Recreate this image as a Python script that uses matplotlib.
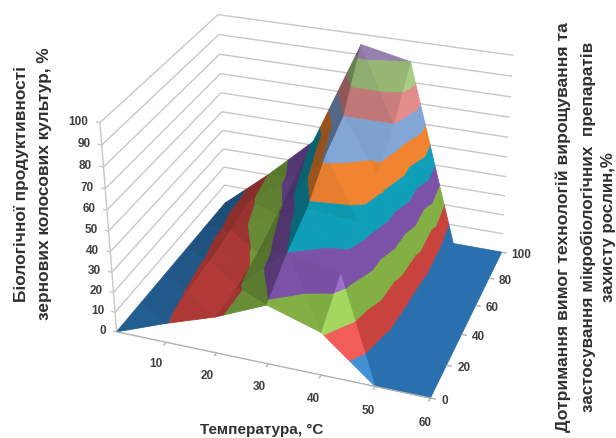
import numpy as np
import matplotlib
matplotlib.use("Agg")
import matplotlib.pyplot as plt
from mpl_toolkits.mplot3d import proj3d
from mpl_toolkits.mplot3d.art3d import Poly3DCollection, Line3DCollection

plt.rcParams['font.family'] = ['Liberation Sans', 'DejaVu Sans']

# values
temperature = [0, 10, 20, 30, 40, 50, 60]
compliance = [0, 20, 40, 60, 80, 100]

# one row per compliance value, one column per temperature
row_0 = [0, 9.5, 18, 29, 21, 0, 0]
row_20 = [0, 11, 18, 40, 35, 6, 0]
row_40 = [0, 12.5, 21.5, 48, 46, 8, 0]
row_60 = [0, 15, 28, 62, 57, 10, 0]
row_80 = [0, 18, 35, 70, 70, 8, 0]
row_100 = [0, 20, 42, 95, 90, 0, 0]
productivity = np.array([row_0, row_20, row_40, row_60, row_80, row_100], dtype=float)

z_ticks = list(range(0, 101, 10))
t_ticks = [10, 20, 30, 40, 50, 60]
m_ticks = [0, 20, 40, 60, 80, 100]

band_colors = ['#2a70ae', '#c8423e', '#82b044', '#7c52a8', '#0f9fb8',
               '#f08430', '#82a6d6', '#e28c8c', '#a8cc82', '#a88fc4']

# Excel's camera: (temperature, compliance, z) -> pixel
cam_3d = np.array([(0, 0, 0), (10, 0, 0), (20, 0, 0), (30, 0, 0), (50, 0, 0), (60, 0, 0),
                   (60, 20, 0), (60, 40, 0), (60, 60, 0), (60, 80, 0), (60, 100, 0),
                   (0, 0, 50), (0, 0, 100), (0, 100, 0), (0, 100, 50), (0, 100, 100),
                   (60, 100, 50), (60, 100, 100)], dtype=float)
cam_px = np.array([(117, 331), (167, 344), (216, 355), (267, 366), (374, 387), (429, 398),
                   (447, 366), (463, 336), (478, 306), (490, 279), (500, 253),
                   (109, 233), (100, 123), (225, 204), (222, 113), (218, 15),
                   (506, 158), (514, 57)], dtype=float)


def fit_camera(pts, px):
    rows, rhs = [], []
    for (x, y, z), (u, v) in zip(pts, px):
        rows.append([x, y, z, 1, 0, 0, 0, 0, -u * x, -u * y, -u * z])
        rows.append([0, 0, 0, 0, x, y, z, 1, -v * x, -v * y, -v * z])
        rhs += [u, v]
    p = np.linalg.lstsq(np.array(rows), np.array(rhs), rcond=None)[0]
    return np.append(p, 1).reshape(3, 4)


def clip(poly, level, keep_above):
    # cut a polygon with the plane z = level
    out = []
    for a, b in zip(poly, poly[1:] + poly[:1]):
        a_in = (a[2] >= level) == keep_above
        b_in = (b[2] >= level) == keep_above
        if a_in:
            out.append(a)
        if a_in != b_in:
            f = (level - a[2]) / (b[2] - a[2])
            out.append(tuple(a[i] + f * (b[i] - a[i]) for i in range(3)))
    return out


def shade(color, tri):
    a, b, c = [np.array(p) / (40, 66, 50) for p in tri]
    n = np.cross(b - a, c - a)
    n = n / np.linalg.norm(n)
    if n[2] < 0:
        n = -n
    f = 1 - 0.45 * min(n[0], 0) ** 2 - 0.6 * max(-n[1] - 0.6, 0)
    glow = 8 * max(n @ (0.7, -0.6, 0.4) - 0.96, 0)
    rgb = np.array(matplotlib.colors.to_rgb(color)) * f * (1 + glow)
    rgb = rgb + (1 - rgb) * glow * 0.4
    return tuple(np.clip(rgb, 0, 1))


fig = plt.figure(figsize=(6.16, 4.39), dpi=100)
ax = fig.add_axes([0, 0, 1, 1], projection='3d')
ax.apply_aspect = lambda position=None: None
ax.set_axis_off()
ax.computed_zorder = False

# pixel -> the 2d axes coordinates mplot3d wants
ax.set_position([0, 0, 1, 1])
to_disp = np.array([[1, 0, 0], [0, -1, 439], [0, 0, 1]], dtype=float)
cam = ax.transData.inverted().get_matrix() @ to_disp @ fit_camera(cam_3d, cam_px)
depth = [-0.27 / 60, 1 / 100, -0.78 / 100, 0]
proj = np.array([cam[0], cam[1], depth, cam[2]])
ax.get_proj = lambda: proj


def label(x, y, z, text, **kw):
    px, py, _ = proj3d.proj_transform(x, y, z, proj)
    ax.text2D(px, py, text, transform=ax.transData, fontsize=8.5, fontweight='bold',
              color='#404040', va='center', zorder=4, **kw)


# surface, split in 10 % bands like an Excel surface chart
polys, colors = [], []
for j in range(len(compliance) - 1):
    for i in range(len(temperature) - 1):
        p00 = (temperature[i], compliance[j], productivity[j, i])
        p10 = (temperature[i + 1], compliance[j], productivity[j, i + 1])
        p01 = (temperature[i], compliance[j + 1], productivity[j + 1, i])
        p11 = (temperature[i + 1], compliance[j + 1], productivity[j + 1, i + 1])
        for tri in ([p00, p10, p01], [p10, p11, p01]):
            for k, col in enumerate(band_colors):
                piece = clip(list(tri), k * 10, True)
                if len(piece) >= 3:
                    piece = clip(piece, (k + 1) * 10, False)
                if len(piece) >= 3:
                    polys.append(piece)
                    colors.append(shade(col, tri))

surf = Poly3DCollection(polys, facecolors=colors, edgecolors=colors, linewidths=0.6, zorder=2)
ax.add_collection3d(surf)

# walls
grid_col = '#c8c8c8'
wall_segs = [[(0, 0, 0), (0, 0, 100)]]
for z in z_ticks:
    wall_segs.append([(0, 0, z), (0, 100, z)])
    wall_segs.append([(0, 100, z), (60, 100, z)])
    wall_segs.append([(0, 0, z), (-0.8, 0, z)])
ax.add_collection3d(Line3DCollection(wall_segs, colors=grid_col, linewidths=1, zorder=1))

# axes
axis_segs = [[(0, 0, 0), (60, 0, 0)]]
axis_segs += [[(t, 0, 0), (t, -2, 0)] for t in t_ticks]
axis_segs += [[(60, m, 0), (61, m, 0)] for m in m_ticks]
ax.add_collection3d(Line3DCollection(axis_segs, colors='#b0b0b0', linewidths=1, zorder=3))

for z in z_ticks:
    label(-2.2, 0, z, str(z), ha='right')
for t in t_ticks:
    label(t + 1, -13, 0, str(t), ha='center')
for m in m_ticks:
    label(62, m, 0, str(m), ha='left')

# axis titles
title_kw = dict(fontweight='bold', color='#303030', ha='center', va='center')
fig.text(262 / 616, 1 - 430 / 439, 'Температура, °C', fontsize=11, **title_kw)
fig.text(22 / 616, 1 - 184 / 439, 'Біологічної продуктивності', rotation=90, fontsize=12.4, **title_kw)
fig.text(45 / 616, 1 - 184 / 439, 'зернових колосових культур, %', rotation=90, fontsize=12.4, **title_kw)
fig.text(563 / 616, 1 - 227 / 439, 'Дотримання вимог технологій вирощування та', rotation=90, fontsize=12.6, **title_kw)
fig.text(588 / 616, 1 - 227 / 439, 'застосування мікробіологічних  препаратів', rotation=90, fontsize=12.3, **title_kw)
fig.text(608 / 616, 1 - 227 / 439, 'захисту рослин,%', rotation=90, fontsize=12.2, **title_kw)

plt.savefig('out.png', dpi=100)
